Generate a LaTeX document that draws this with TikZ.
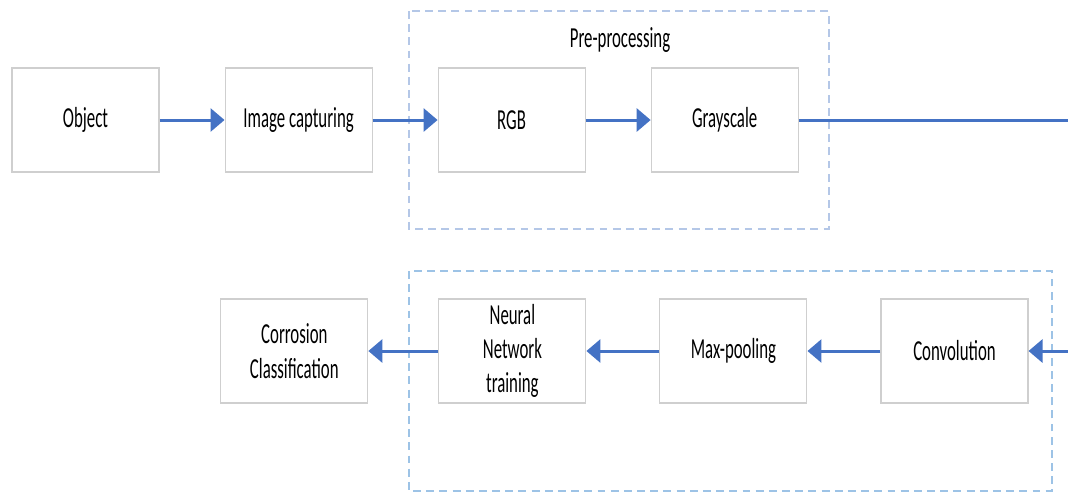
\documentclass[tikz,border=0pt]{standalone}
\usepackage{tikz}
\usepackage{xcolor}
\usepackage{fontspec}
\newfontfamily\boxfont{Carlito}[FakeStretch=0.58]
\usetikzlibrary{positioning,
	arrows.meta,
	calc}
\definecolor{flowblue}{HTML}{4472C4}
\definecolor{boxgray}{HTML}{CFCFCF}
\definecolor{frameblue}{HTML}{B4C7E7}
\definecolor{framesky}{HTML}{9DC3E6}

\begin{document}
\begin{tikzpicture}[scale=1, transform shape,
                            stage/.style={draw=boxgray, line width=0.6pt, fill=white, minimum width=2.94cm, minimum height=2.08cm, inner sep=0pt, align=center, font=\boxfont\fontsize{16.5}{19.5}\selectfont},
                            flow/.style={draw=flowblue, line width=1.7pt, -{Triangle[length=0.28cm,width=0.46cm]}},
                            frame/.style={line width=0.9pt, dash pattern=on 4.5pt off 3pt}]
                            \useasboundingbox (0,0) rectangle (21.36,-9.86);
                            % dashed groups
                            \draw [frame, draw=frameblue] (8.18,-0.22) rectangle (16.58,-4.58);
                            \draw [frame, draw=framesky] (8.18,-5.42) rectangle (21.04,-9.82);
                            \node (prelabel) [font=\boxfont\fontsize{16.5}{19.5}\selectfont] at (12.4,-0.8) {Pre-processing};
                            % top row
                            \node (object) [stage] at (1.71,-2.4) {Object};
                            \node (capture) [stage, right=1.3cm of object] {Image capturing};
                            \node (rgb) [stage, right=1.3cm of capture] {RGB};
                            \node (gray) [stage, right=1.3cm of rgb] {Grayscale};
                            \coordinate (topend) at (21.36,-2.4);
                            % bottom row
                            \node (conv) [stage] at (19.09,-7.02) {Convolution};
                            \node (maxpool) [stage, left=1.46cm of conv] {Max-pooling};
                            \node (nntrain) [stage, left=1.46cm of maxpool] {Neural\\Network\\training};
                            \node (classify) [stage, left=1.4cm of nntrain] {Corrosion\\Classification};
                            \coordinate (botstart) at (21.36,-7.02);
                            \draw [flow] (object) -- (capture);
                            \draw [flow] (capture) -- (rgb);
                            \draw [flow] (rgb) -- (gray);
                            \draw [flowblue, line width=1.7pt] (gray) -- (topend);
                            \draw [flow] (botstart) -- (conv);
                            \draw [flow] (conv) -- (maxpool);
                            \draw [flow] (maxpool) -- (nntrain);
                            \draw [flow] (nntrain) -- (classify);
                        \end{tikzpicture}
\end{document}
